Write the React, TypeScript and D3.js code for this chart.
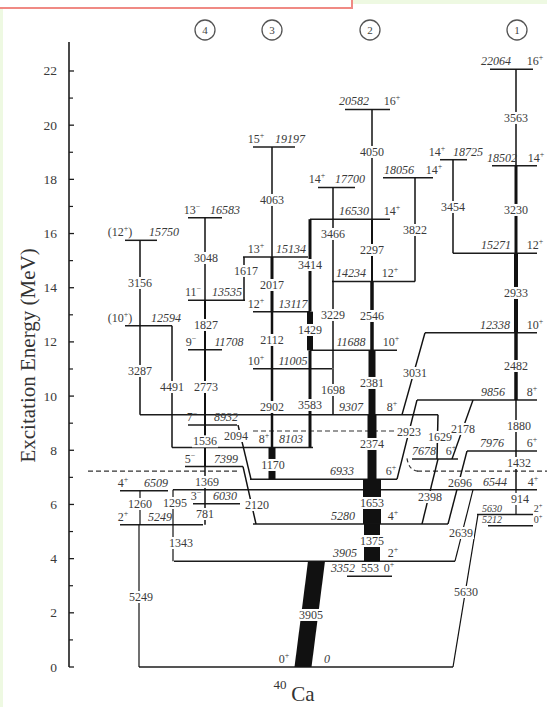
import React from "react";
import * as d3 from "d3";

const W = 547;
const H = 707;

// ---- data ----
const majorTicks = [0, 2, 4, 6, 8, 10, 12, 14, 16, 18, 20, 22];
const minorTicks = [1, 3, 5, 7, 9, 11, 13, 15, 17, 19, 21];
const bandNames = ["4", "3", "2", "1"];
const bandX = [205, 272, 370, 517];

// levels: [energy keV, x1, x2, energy label, label x, spin, spin x]
const levels: [number, number, number, string, number, string, number][] = [
  [0, 139, 453, "0", 327, "0+", 284],
  [3352, 347, 392, "3352", 343, "0+", 389],
  [3905, 174, 455, "3905", 345, "2+", 393],
  [5280, 253, 448, "5280", 343, "4+", 393],
  [6933, 250, 397, "6933", 342, "6+", 391],
  [9307, 140, 438, "9307", 351, "8+", 392],
  [11688, 310, 397, "11688", 351, "10+", 391],
  [14234, 332, 415, "14234", 351, "12+", 390],
  [16530, 310, 390, "16530", 354, "14+", 392],
  [20582, 345, 390, "20582", 354, "16+", 392],
  [5212, 488, 533, "5212", 492, "0+", 538],
  [5630, 477, 533, "5630", 492, "2+", 538],
  [6544, 173, 537, "6544", 495, "4+", 533],
  [7976, 467, 537, "7976", 492, "6+", 532],
  [9856, 417, 537, "9856", 493, "8+", 532],
  [12338, 425, 537, "12338", 495, "10+", 535],
  [15271, 453, 537, "15271", 496, "12+", 535],
  [18502, 492, 537, "18502", 502, "14+", 536],
  [22064, 490, 533, "22064", 496, "16+", 535],
  [18725, 440, 467, "18725", 468, "14+", 437],
  [18056, 383, 433, "18056", 399, "14+", 434],
  [7678, 412, 458, "7678", 424, "6+", 451],
  [8103, 172, 313, "8103", 291, "8+", 264],
  [11005, 253, 332, "11005", 293, "10+", 256],
  [13117, 253, 310, "13117", 293, "12+", 256],
  [15134, 243, 308, "15134", 291, "13+", 256],
  [19197, 253, 295, "19197", 290, "15+", 256],
  [17700, 318, 355, "17700", 350, "14+", 317],
  [5249, 120, 203, "5249", 160, "2+", 123],
  [6030, 193, 240, "6030", 225, "3-", 196],
  [6509, 120, 168, "6509", 156, "4+", 123],
  [7399, 185, 243, "7399", 226, "5-", 190],
  [8932, 188, 237, "8932", 226, "7-", 192],
  [11708, 188, 222, "11708", 229, "9-", 191],
  [13535, 188, 245, "13535", 227, "11-", 193],
  [16583, 188, 222, "16583", 225, "13-", 192],
  [12594, 125, 172, "12594", 166, "(10+)", 120],
  [15750, 125, 157, "15750", 164, "(12+)", 120],
];
// levels whose labels are set smaller because they crowd
const smallLabelLevels = [5212, 5630];

// transitions: [from keV, to keV, x at top, x at bottom, width, label, label x, label keV]
const transitions: [number, number, number, number, number, string, number, number][] = [
  [3905, 0, 316.5, 303, 17, "3905", 311, 1920],
  [5280, 3905, 372, 372, 16, "1375", 372, 4651],
  [6933, 5280, 372, 372, 18, "1653", 372, 6054],
  [9307, 6933, 372, 372, 9, "2374", 372, 8232],
  [11688, 9307, 372, 372, 7, "2381", 372, 10484],
  [14234, 11688, 372, 372, 3.5, "2546", 372, 12957],
  [16530, 14234, 372, 372, 2, "2297", 372, 15393],
  [20582, 16530, 372, 372, 1.5, "4050", 372, 19011],
  [22064, 18502, 516, 516, 1.5, "3563", 516, 20266],
  [18502, 15271, 516, 516, 3, "3230", 516, 16870],
  [15271, 12338, 516, 516, 4, "2933", 516, 13806],
  [12338, 9856, 516, 516, 3.5, "2482", 516, 11111],
  [9856, 7976, 516, 516, 1.5, "1880", 519, 8896],
  [7976, 6544, 516, 516, 1.5, "1432", 519, 7530],
  [6544, 5630, 516, 516, 1.2, "914", 520, 6202],
  [18725, 15271, 453, 453, 1.5, "3454", 453, 16980],
  [18056, 14234, 415, 415, 1.5, "3822", 415, 16131],
  [12338, 9307, 425, 402, 1.5, "3031", 415, 10853],
  [9856, 6933, 417, 397, 1.5, "2923", 409, 8675],
  [9307, 7678, 438, 437, 1.5, "1629", 440, 8490],
  [9856, 7678, 473, 452, 1.5, "2178", 463, 8786],
  [7678, 5280, 438, 422, 1.5, "2398", 430, 6275],
  [7976, 5280, 467, 448, 1.5, "2696", 460, 6792],
  [6544, 3905, 473, 455, 1.2, "2639", 461, 4946],
  [5630, 0, 478, 453, 1.2, "5630", 466, 2769],
  [19197, 15134, 272, 272, 1.5, "4063", 272, 17239],
  [15134, 13117, 272, 272, 3, "2017", 272, 14101],
  [13117, 11005, 272, 272, 2.5, "2112", 272, 12071],
  [11005, 8103, 272, 272, 2.5, "2902", 272, 9598],
  [8103, 6933, 272, 272, 7, "1170", 273, 7457],
  [16530, 13117, 310, 310, 3, "3414", 310, 14839],
  [13117, 11688, 310, 310, 6, "1429", 310, 12440],
  [11688, 8103, 310, 310, 3, "3583", 310, 9671],
  [17700, 14234, 333, 333, 1.5, "3466", 333, 15984],
  [14234, 11005, 333, 333, 1.5, "3229", 333, 12994],
  [11005, 9307, 333, 333, 1.5, "1698", 333, 10225],
  [15134, 13535, 244, 244, 1.5, "1617", 246, 14618],
  [16583, 13535, 205, 205, 1.5, "3048", 206, 15098],
  [13535, 11708, 205, 205, 2, "1827", 206, 12625],
  [11708, 8932, 205, 205, 2, "2773", 206, 10336],
  [8932, 7399, 205, 205, 2, "1536", 205, 8330],
  [7399, 6030, 205, 205, 1.5, "1369", 207, 6830],
  [6030, 5249, 205, 205, 1.5, "781", 205, 5648],
  [15750, 12594, 140, 140, 1.5, "3156", 140, 14175],
  [12594, 9307, 140, 140, 1.5, "3287", 140, 10927],
  [12594, 8103, 172, 172, 1.5, "4491", 172, 10336],
  [6509, 5249, 140, 140, 1.2, "1260", 140, 6017],
  [5249, 0, 139, 139, 1.2, "5249", 141, 2584],
  [6544, 5249, 173, 173, 1.2, "1295", 175, 6054],
  [5249, 3905, 173, 173, 1.2, "1343", 181, 4577],
  [8932, 6933, 238, 251, 1.5, "2094", 236, 8527],
  [7399, 5280, 243, 256, 1.5, "2120", 257, 5980],
];

// extra labels [text, x, keV]
const extraLabels: [string, number, number][] = [["553", 370, 3352]];

// dashed guide lines [keV, x1, x2]
const dashedLines: [number, number, number][] = [
  [7230, 88, 240],
  [7230, 417, 547],
  [8712, 253, 400],
];

const FONT = "'Liberation Serif', 'Times New Roman', serif";
const INK = "#1c1c1c";
const TXT = "#3a3a3a";

function Spin({ s, x, y, size }: { s: string; x: number; y: number; size: number }) {
  const m = s.match(/^(\(?)(\d+)([+-])(\)?)$/);
  if (!m) return null;
  const sup = size * 0.66;
  const dy = size * 0.42;
  return (
    <text x={x} y={y} textAnchor="middle" fontSize={size} fill={TXT} fontFamily={FONT}>
      {m[1]}
      {m[2]}
      <tspan fontSize={sup} dy={-dy}>{m[3] === "-" ? "\u2212" : "+"}</tspan>
      <tspan dy={dy}>{m[4]}</tspan>
    </text>
  );
}

export default function App() {
  const y = d3.scaleLinear().domain([0, 23.07]).range([667, 42]);
  const x = d3.scaleLinear().domain([0, W]).range([0, W]);
  const yk = (e: number) => y(e / 1000);

  return (
    <svg width={W} height={H} style={{ position: "absolute", left: 0, top: 0 }} fontFamily={FONT}>
      <rect x={0} y={0} width={W} height={H} fill="#eef9e2" />
      <rect x={3} y={4} width={W - 3} height={H - 4} fill="#ffffff" />
      <rect x={-3} y={-3} width={355} height={11} fill="#ffffff" stroke="#f08a84" strokeWidth={2} />

      {/* band markers */}
      {bandNames.map((n, i) => (
        <g key={"b" + n}>
          <circle cx={x(bandX[i])} cy={30} r={10} fill="none" stroke="#555" strokeWidth={1.3} />
          <text x={x(bandX[i])} y={34} textAnchor="middle" fontSize={11} fill="#444">{n}</text>
        </g>
      ))}

      {/* axis */}
      <line x1={69} x2={69} y1={y(23.07)} y2={y(0)} stroke={INK} strokeWidth={1.6} />
      {majorTicks.map((t) => (
        <g key={"t" + t}>
          <line x1={69} x2={74} y1={y(t)} y2={y(t)} stroke={INK} strokeWidth={1.3} />
          <text x={57} y={y(t) + 4.5} textAnchor="end" fontSize={13.5} fill={TXT}>{t}</text>
        </g>
      ))}
      {minorTicks.map((t) => (
        <line key={"m" + t} x1={69} x2={73} y1={y(t)} y2={y(t)} stroke={INK} strokeWidth={1.2} />
      ))}
      <text
        transform={`translate(35,${y(11.5)}) rotate(-90)`}
        textAnchor="middle"
        fontSize={21}
        fill="#333"
      >
        Excitation Energy (MeV)
      </text>

      {/* dashed guides */}
      {dashedLines.map((d, i) => (
        <line key={"d" + i} x1={x(d[1])} x2={x(d[2])} y1={yk(d[0])} y2={yk(d[0])}
          stroke="#333" strokeWidth={1.2} strokeDasharray="5,3" />
      ))}
      <path d={`M${x(407)},${yk(7700)} Q${x(409)},${yk(7230)} ${x(419)},${yk(7230)}`}
        fill="none" stroke="#333" strokeWidth={1.2} strokeDasharray="4,3" />

      {/* levels */}
      {levels.map((l, i) => (
        <line key={"l" + i} x1={x(l[1])} x2={x(l[2])} y1={yk(l[0])} y2={yk(l[0])}
          stroke={INK} strokeWidth={1.5} />
      ))}

      {/* transitions */}
      {transitions.map((t, i) => {
        const yt = yk(t[0]);
        const yb = yk(t[1]);
        const w = t[4] / 2;
        const pts = [
          [x(t[2]) - w, yt], [x(t[2]) + w, yt], [x(t[3]) + w, yb], [x(t[3]) - w, yb],
        ];
        return <polygon key={"tr" + i} points={pts.map((p) => p.join(",")).join(" ")} fill="#111" />;
      })}

      {/* transition labels */}
      {transitions.map((t, i) => {
        const ly = yk(t[7]);
        const bw = t[5].length * 6 + 2;
        return (
          <g key={"tl" + i}>
            <rect x={x(t[6]) - bw / 2} y={ly - 6} width={bw} height={12} fill="#fff" />
            <text x={x(t[6])} y={ly + 4} textAnchor="middle" fontSize={12} fill={TXT}>{t[5]}</text>
          </g>
        );
      })}
      {extraLabels.map((e, i) => (
        <text key={"e" + i} x={x(e[1])} y={yk(e[2]) - 4} textAnchor="middle" fontSize={12} fill={TXT}>{e[0]}</text>
      ))}

      {/* level labels */}
      {levels.map((l, i) => {
        const small = smallLabelLevels.includes(l[0]);
        const fs = small ? 10 : 12;
        const off = small ? 2.5 : 4;
        return (
          <g key={"ll" + i}>
            <text x={x(l[4])} y={yk(l[0]) - off} textAnchor="middle" fontSize={fs} fontStyle="italic" fill={TXT}>{l[3]}</text>
            <Spin s={l[5]} x={x(l[6])} y={yk(l[0]) - off} size={fs} />
          </g>
        );
      })}

      {/* nucleus label */}
      <text x={280} y={689} textAnchor="middle" fontSize={13} fill="#333">40</text>
      <text x={303} y={701} textAnchor="middle" fontSize={21} fill="#333">Ca</text>
    </svg>
  );
}
